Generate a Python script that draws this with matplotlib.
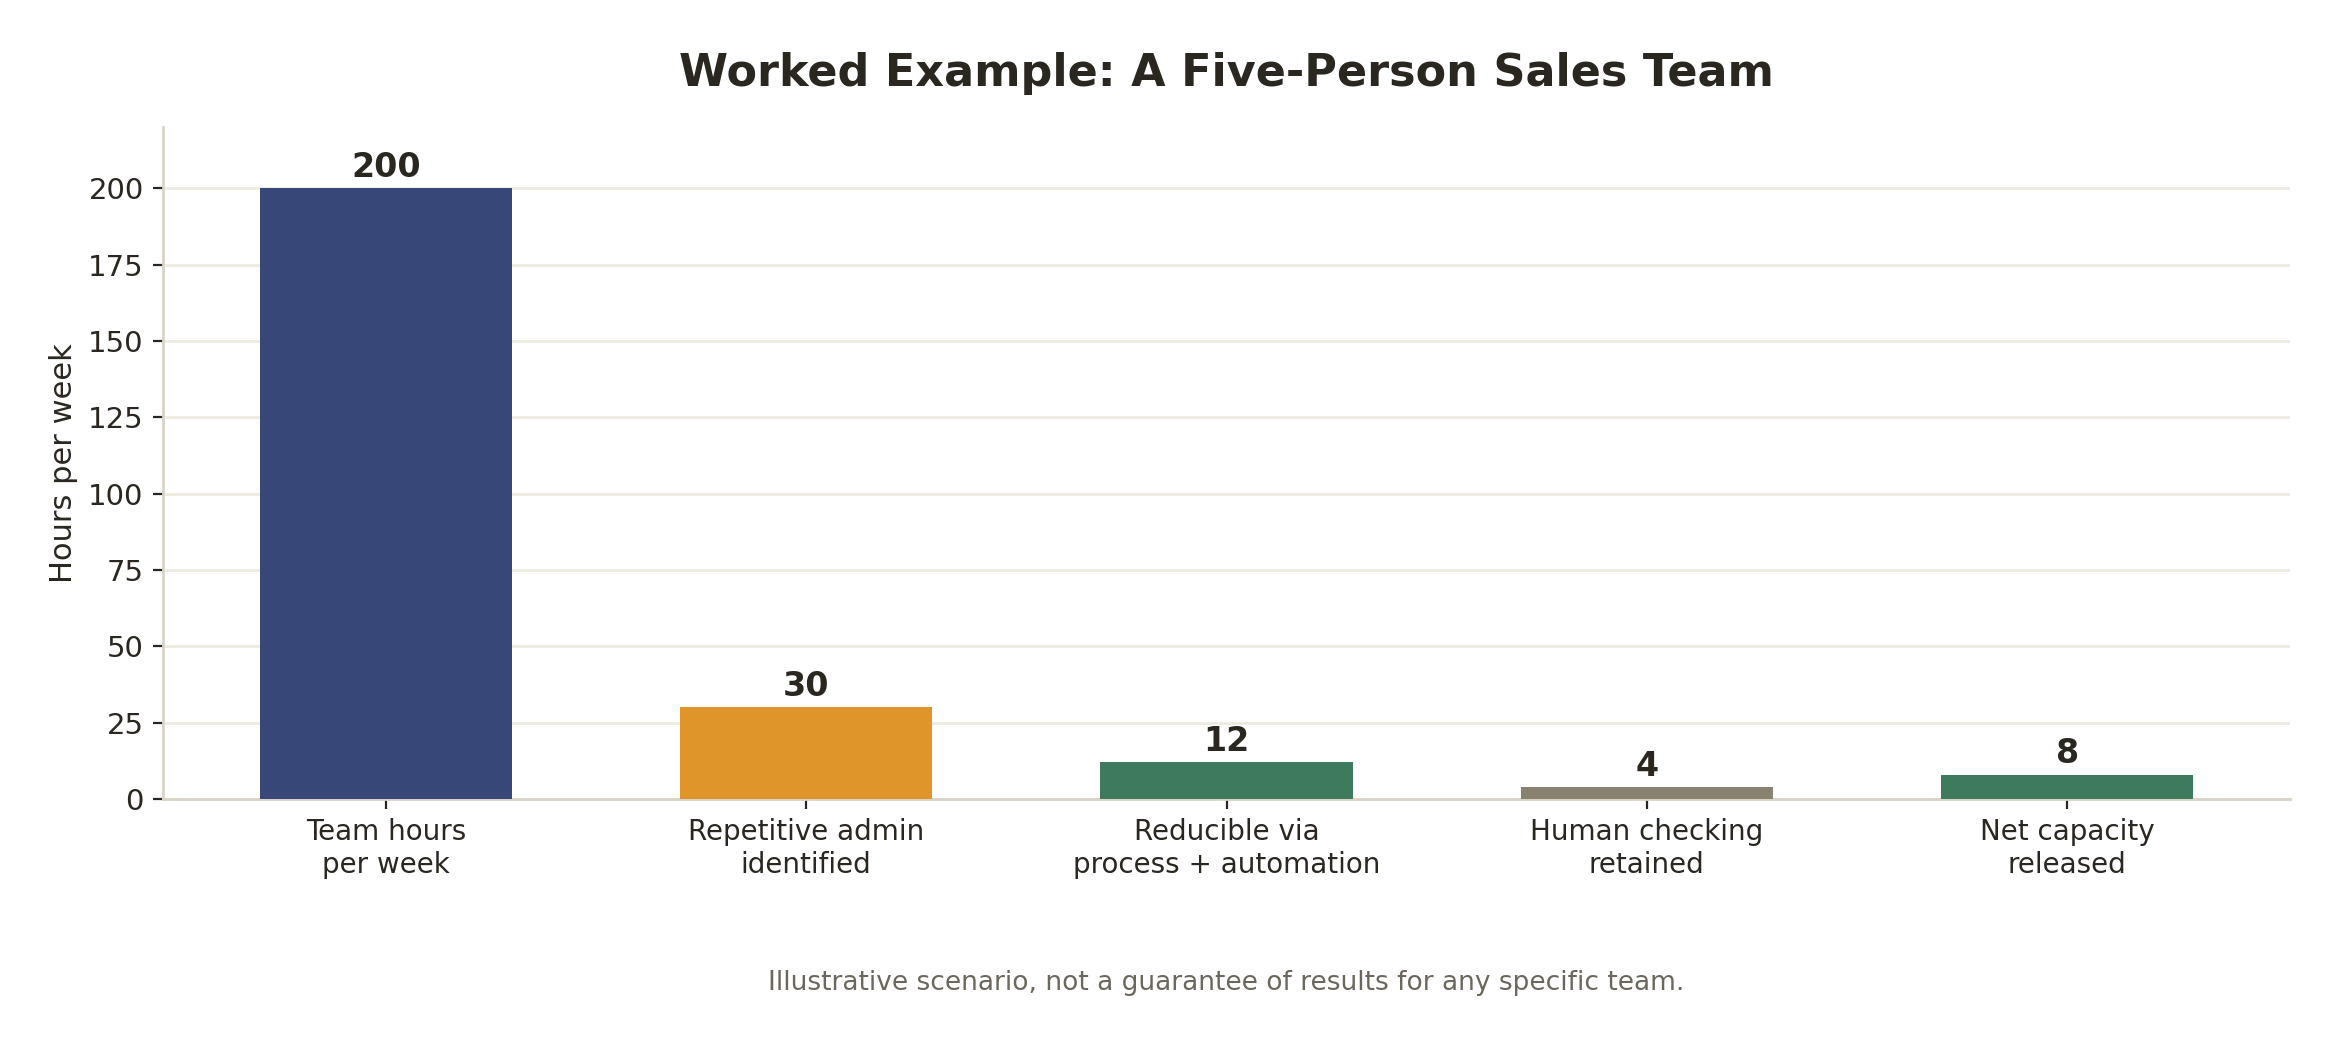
"""Worked example bar chart: weekly hours of a five-person sales team."""
import matplotlib

matplotlib.use("Agg")
import matplotlib.pyplot as plt

CATEGORIES = [
    "Team hours\nper week",
    "Repetitive admin\nidentified",
    "Reducible via\nprocess + automation",
    "Human checking\nretained",
    "Net capacity\nreleased",
]
HOURS = [200, 30, 12, 4, 8]
BAR_COLORS = ["#374878", "#E0952B", "#3D7A5E", "#8A8270", "#3D7A5E"]

TEXT = "#2A2620"
GRID = "#EEEADF"
SPINE = "#D8D4C6"


def main() -> None:
    plt.rcParams["font.family"] = "DejaVu Sans"
    fig, ax = plt.subplots(figsize=(11.7, 5.215), dpi=200)
    fig.subplots_adjust(left=0.0697, right=0.9786, bottom=0.234, top=0.878)

    x = range(len(CATEGORIES))
    bars = ax.bar(x, HOURS, width=0.6, color=BAR_COLORS, zorder=3)

    for rect, v in zip(bars, HOURS):
        ax.annotate(
            f"{v}",
            (rect.get_x() + rect.get_width() / 2, v),
            xytext=(0, 1.5),
            textcoords="offset points",
            ha="center",
            va="bottom",
            fontsize=12,
            fontweight="bold",
            color=TEXT,
        )

    ax.set_xticks(list(x), CATEGORIES)
    ax.set_ylim(0, 220)
    ax.set_yticks(range(0, 201, 25))
    ax.tick_params(axis="y", labelsize=10.5, colors=TEXT)
    ax.tick_params(axis="x", labelsize=10, colors=TEXT)
    ax.set_ylabel("Hours per week", fontsize=11, color=TEXT, labelpad=3.5)
    ax.set_title(
        "Worked Example: A Five-Person Sales Team",
        fontsize=16,
        fontweight="bold",
        color=TEXT,
        pad=15,
    )

    ax.grid(axis="y", color=GRID, linewidth=1.0, zorder=0)
    for side in ("top", "right"):
        ax.spines[side].set_visible(False)
    for side in ("left", "bottom"):
        ax.spines[side].set_color(SPINE)
        ax.spines[side].set_linewidth(1.0)

    pos = ax.get_position()
    fig.text(
        (pos.x0 + pos.x1) / 2,
        0.058,
        "Illustrative scenario, not a guarantee of results for any specific team.",
        ha="center",
        va="center",
        fontsize=9.5,
        color="#6B675C",
    )

    fig.savefig("out.png", dpi=200)
    plt.close(fig)


if __name__ == "__main__":
    main()
